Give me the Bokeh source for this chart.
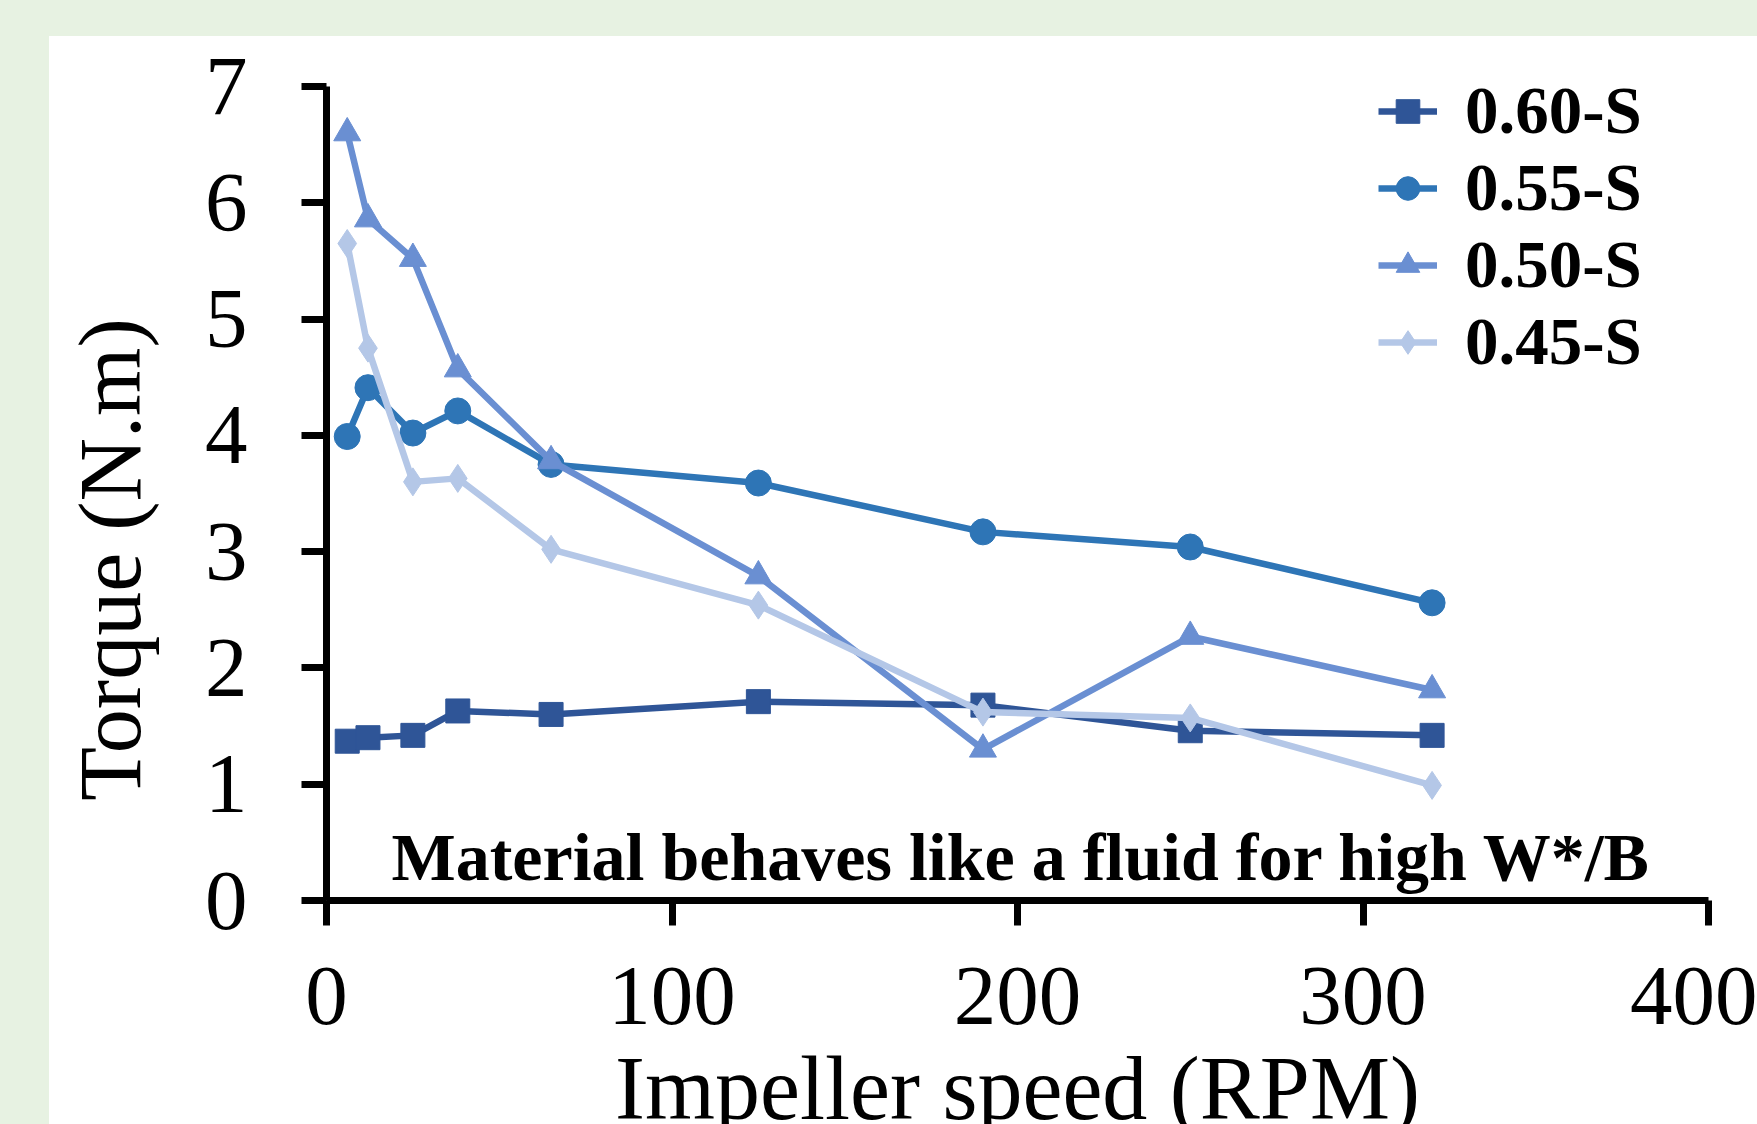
from bokeh.plotting import figure
from bokeh.models import Range1d, SingleIntervalTicker, Legend, LegendItem, Label, Div
from bokeh.layouts import column, row
from bokeh.embed import file_html
from bokeh.resources import INLINE

# ---- data ----
speed = [6, 12, 25, 38, 65, 125, 190, 250, 320]
torque_060 = [1.37, 1.40, 1.42, 1.63, 1.60, 1.71, 1.68, 1.46, 1.42]
torque_055 = [3.99, 4.41, 4.02, 4.21, 3.75, 3.59, 3.17, 3.04, 2.56]
torque_050 = [6.60, 5.86, 5.52, 4.57, 3.78, 2.79, 1.30, 2.27, 1.81]
torque_045 = [5.65, 4.75, 3.60, 3.63, 3.02, 2.54, 1.62, 1.57, 0.99]
series_names = ["0.60-S", "0.55-S", "0.50-S", "0.45-S"]
x_ticks_interval = 100
y_ticks_interval = 1
annotation_text = "Material behaves like a fluid for high W*/B"
x_title = "Impeller speed (RPM)"
y_title = "Torque (N.m)"

# ---- styles ----
colors = ["#2f5597", "#2e75b6", "#6a8fd2", "#b4c7e7"]
markers = ["square", "circle", "triangle", "diamond"]
marker_sizes = [24, 26, 27, 28]
FONT = "Liberation Serif"
GREEN = "#e7f2e2"

FIG_H = 1127
p = figure(width=1708, height=FIG_H,
           x_range=Range1d(0, 400), y_range=Range1d(0, 7),
           output_backend="svg", toolbar_location=None,
           min_border_left=277, min_border_right=49,
           min_border_top=50, min_border_bottom=FIG_H - 50 - 817)
p.background_fill_color = "white"
p.border_fill_color = "white"
p.outline_line_color = None
p.xgrid.visible = False
p.ygrid.visible = False

p.xaxis.ticker = SingleIntervalTicker(interval=x_ticks_interval)
p.yaxis.ticker = SingleIntervalTicker(interval=y_ticks_interval)
for ax in (p.xaxis[0], p.yaxis[0]):
    ax.axis_line_width = 7
    ax.axis_line_color = "black"
    ax.major_tick_line_width = 7
    ax.major_tick_line_color = "black"
    ax.major_tick_in = 0
    ax.major_tick_out = 25
    ax.minor_tick_line_color = None
    ax.major_label_text_font = FONT
    ax.major_label_text_font_size = "85px"
    ax.major_label_text_color = "black"
    ax.axis_label_text_font = FONT
    ax.axis_label_text_font_style = "normal"
    ax.axis_label_text_color = "black"
p.xaxis.major_label_standoff = 42
p.yaxis.major_label_standoff = 54

p.xaxis.axis_label = x_title
p.xaxis.axis_label_text_font_size = "90px"
p.xaxis.axis_label_standoff = 12

# trailing en-spaces shift the visible title toward the bottom, as in the reference
p.yaxis.axis_label = y_title + "\u2002\u2002\u2002"
p.yaxis.axis_label_text_font_size = "88px"
p.yaxis.axis_label_standoff = 43

all_series = [torque_060, torque_055, torque_050, torque_045]
items = []
for name, ys, c, m, s in zip(series_names, all_series, colors, markers, marker_sizes):
    r1 = p.line(speed, ys, line_color=c, line_width=6.5)
    r2 = p.scatter(speed, ys, marker=m, size=s, fill_color=c, line_color=c)
    items.append(LegendItem(label=name, renderers=[r1, r2]))

legend = Legend(items=items, location=(1052, 520),
                label_text_font=FONT, label_text_font_style="bold",
                label_text_font_size="67px", label_text_color="black",
                glyph_width=59, glyph_height=60, label_height=60,
                label_standoff=28, spacing=0, padding=0, margin=0,
                border_line_color=None, background_fill_alpha=0)
p.add_layout(legend)

p.add_layout(Label(x=18.8, y=0.37,
                   text=annotation_text, text_font=FONT, text_font_style="bold",
                   text_font_size="68px", text_color="black",
                   text_align="left", text_baseline="alphabetic"))

top = Div(text="", width=1757, height=36, margin=0,
          styles={"background-color": GREEN})
left = Div(text="", width=49, height=FIG_H, margin=0,
           styles={"background-color": GREEN})
layout = column(top, row(left, p, spacing=0), spacing=0,
                width=1757, height=1124, styles={"overflow": "hidden"})

open("out.html", "w").write(file_html(layout, INLINE))
